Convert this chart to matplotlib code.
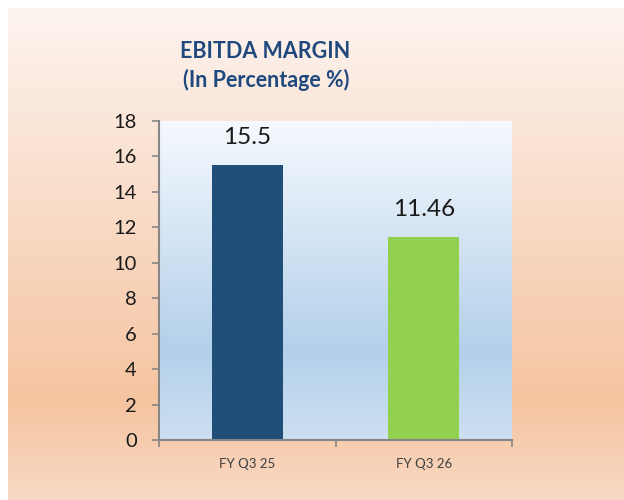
import numpy as np
import matplotlib.pyplot as plt
from matplotlib.colors import LinearSegmentedColormap

categories = ['FY Q3 25', 'FY Q3 26']
margin = [15.5, 11.46]
labels = ['15.5', '11.46']
bar_colors = ['#1f4e79', '#92d050']
yticks = [0, 2, 4, 6, 8, 10, 12, 14, 16, 18]

W, H = 624, 500
fig = plt.figure(figsize=(W / 100, H / 100), dpi=100)
fig.patch.set_facecolor('white')

# peach background gradient
bg = fig.add_axes([8 / W, 0, 1 - 8 / W, 1 - 8 / H])
bg_cmap = LinearSegmentedColormap.from_list(
    'bg', [(0, '#fdf4f0'), (0.8, '#f5c4a0'), (1, '#f8d9c5')])
bg.imshow(np.linspace(0, 1, 256)[:, None], aspect='auto', cmap=bg_cmap,
          extent=[0, 1, 0, 1], origin='upper')
bg.axis('off')

fig.text(265 / W, 1 - 52 / H, 'EBITDA MARGIN', ha='center', va='center',
         fontsize=15.5, fontweight='bold', color='#1f497d', family='Lato')
fig.text(266 / W, 1 - 80 / H, '(In Percentage %)', ha='center', va='center',
         fontsize=15.5, fontweight='bold', color='#1f497d', family='Lato')

ax = fig.add_axes([159 / W, 60 / H, 353 / W, 319 / H])
x = np.arange(len(categories))
ax.set_xlim(-0.5, 1.5)
ax.set_ylim(0, 18)

# light blue plot area gradient
pa_cmap = LinearSegmentedColormap.from_list(
    'pa', [(0, '#f6f9fe'), (0.72, '#b3d0ea'), (1, '#cde0f2')])
ax.imshow(np.linspace(0, 1, 256)[:, None], aspect='auto', cmap=pa_cmap,
          extent=[-0.5, 1.5, 0, 18], origin='upper', zorder=0)

ax.bar(x, margin, width=0.4, color=bar_colors, zorder=2)
for xi, v, t in zip(x, margin, labels):
    ax.text(xi, v + 1.55, t, ha='center', va='center', fontsize=17.5,
            color='#1a1a1a', family='Lato')

ax.set_xticks(x)
ax.set_xticklabels(categories, fontsize=9.5, color='#404040', family='Lato')
ax.set_xticks([-0.5, 0.5, 1.5], minor=True)
ax.tick_params(axis='x', which='major', length=0, pad=13)
ax.tick_params(axis='x', which='minor', length=5, color='#868686', width=1.2)
ax.set_yticks(yticks)
ax.set_yticklabels([str(t) for t in yticks], fontsize=14.5, color='#1a1a1a',
                   family='Lato')
ax.tick_params(axis='y', length=5, color='#868686', width=1.2, pad=11)
for s in ['top', 'right']:
    ax.spines[s].set_visible(False)
for s in ['left', 'bottom']:
    ax.spines[s].set_color('#868686')
    ax.spines[s].set_linewidth(1.5)

fig.savefig('out.png', dpi=100)
